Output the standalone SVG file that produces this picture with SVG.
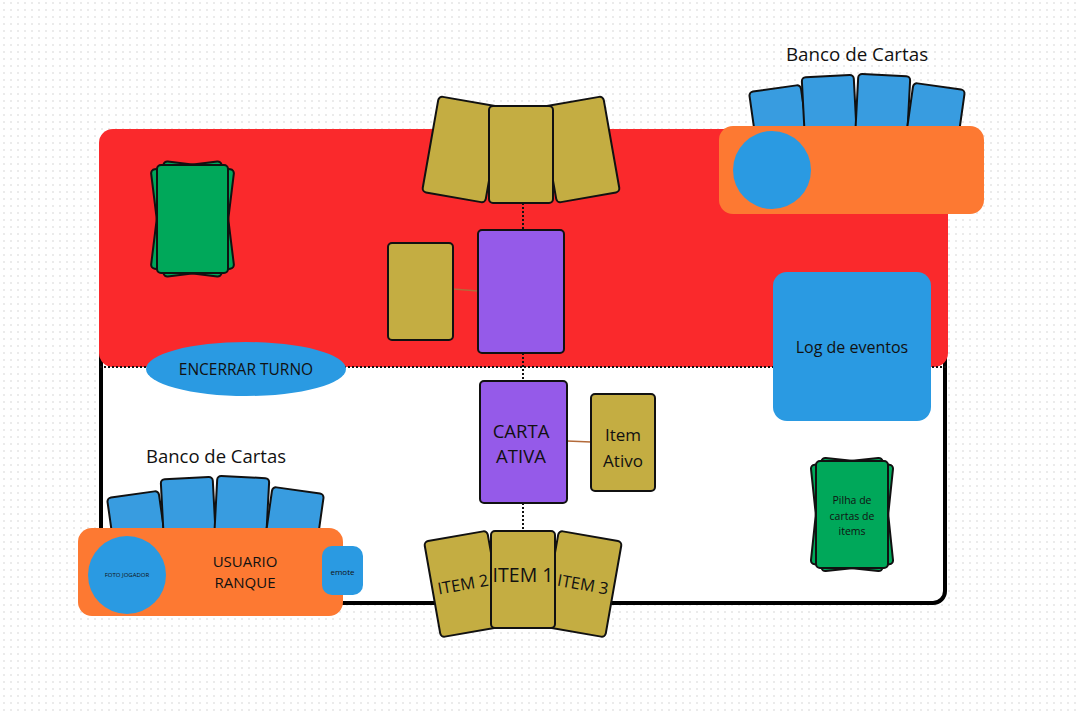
<svg xmlns="http://www.w3.org/2000/svg" width="1081" height="711" viewBox="0 0 1081 711">
  <defs>
    <pattern id="dots" x="0" y="0" width="7" height="7" patternUnits="userSpaceOnUse">
      <rect x="3" y="2" width="2" height="2" fill="#ebebeb"/>
    </pattern>
    <style>
      .card { stroke: #111; stroke-width: 2; }
      .gold { fill: #c4ad42; }
      .purple { fill: #955ae9; }
      .blue { fill: #389ce0; }
      .green { fill: #00a85a; }
      .orange { fill: #fd7932; }
      .sky { fill: #2a9ae2; }
      .txt { font-family: "Open Sans", "Noto Sans", sans-serif; fill: #111; text-anchor: middle; }
      .dot { stroke: #111; stroke-width: 2; stroke-dasharray: 2 2; fill: none; }
      .link { stroke: #b36a3a; stroke-width: 1.5; fill: none; }
    </style>
  </defs>

  <rect width="1081" height="711" fill="#fff"/>
  <rect width="1081" height="711" fill="url(#dots)"/>

  <!-- board -->
  <g id="board">
    <rect x="101" y="140" width="844" height="463" rx="12" fill="#fff" stroke="#000" stroke-width="4"/>
    <rect x="99" y="129" width="849" height="238" rx="14" fill="#fa292c"/>
    <line x1="100" y1="367" x2="947" y2="367" class="dot"/>
  </g>

  <!-- connectors -->
  <g id="connectors">
    <line x1="523" y1="203" x2="523" y2="230" class="dot"/>
    <line x1="523" y1="353" x2="523" y2="381" class="dot"/>
    <line x1="523" y1="503" x2="523" y2="531" class="dot"/>
    <path d="M453 289 L478 291" class="link"/>
    <path d="M567 441 L591 442" class="link"/>
  </g>

  <!-- opponent draw pile -->
  <g id="opponent-pile">
    <rect x="157" y="165" width="71" height="108" rx="4" class="card green" transform="rotate(-7 192.5 219)"/>
    <rect x="157" y="165" width="71" height="108" rx="4" class="card green" transform="rotate(7 192.5 219)"/>
    <rect x="157" y="165" width="71" height="108" rx="4" class="card green"/>
  </g>

  <!-- opponent hand -->
  <g id="opponent-hand">
    <rect x="430" y="101" width="64" height="97" rx="4" class="card gold" transform="rotate(10 462 149.5)"/>
    <rect x="548" y="101" width="64" height="97" rx="4" class="card gold" transform="rotate(-10 580 149.5)"/>
    <rect x="489" y="106" width="64" height="97" rx="4" class="card gold"/>
  </g>

  <!-- opponent item & active card -->
  <g id="opponent-item">
    <rect x="388" y="243" width="65" height="97" rx="4" class="card gold"/>
  </g>
  <g id="opponent-active">
    <rect x="478" y="230" width="86" height="123" rx="4" class="card purple"/>
  </g>

  <!-- opponent panel -->
  <g id="opponent-bank">
    <text x="857" y="61" class="txt" font-size="18.8">Banco de Cartas</text>
    <rect x="755" y="88" width="52" height="90" rx="4" class="card blue" transform="rotate(-8 781 133)"/>
    <rect x="804" y="76" width="52" height="90" rx="4" class="card blue" transform="rotate(-3 830 121)"/>
    <rect x="856" y="75" width="52" height="90" rx="4" class="card blue" transform="rotate(3 882 120)"/>
    <rect x="907" y="86" width="52" height="90" rx="4" class="card blue" transform="rotate(8 933 131)"/>
  </g>
  <g id="opponent-panel">
    <rect x="719" y="126" width="265" height="88" rx="14" class="orange"/>
    <circle cx="772" cy="170" r="39" class="sky"/>
  </g>

  <!-- end turn button -->
  <g id="end-turn">
    <ellipse cx="246" cy="369" rx="100" ry="27" class="sky"/>
    <text x="246" y="374.5" class="txt" font-size="15.5">ENCERRAR TURNO</text>
  </g>

  <!-- event log -->
  <g id="event-log">
    <rect x="773" y="272" width="158" height="149" rx="14" class="sky"/>
    <text x="852" y="353" class="txt" font-size="16">Log de eventos</text>
  </g>

  <!-- player active card & item -->
  <g id="active-card">
    <rect x="480" y="381" width="87" height="122" rx="4" class="card purple"/>
    <text x="521" y="438" class="txt" font-size="18.5">CARTA</text>
    <text x="521" y="463" class="txt" font-size="18.5">ATIVA</text>
  </g>
  <g id="active-item">
    <rect x="591" y="394" width="64" height="97" rx="4" class="card gold"/>
    <text x="623" y="441" class="txt" font-size="17">Item</text>
    <text x="623" y="467" class="txt" font-size="17">Ativo</text>
  </g>

  <!-- player items -->
  <g id="item-2">
    <g transform="rotate(-10 464 584)">
      <rect x="432" y="535.5" width="64" height="97" rx="4" class="card gold"/>
      <text x="463" y="590" class="txt" font-size="16.5">ITEM 2</text>
    </g>
  </g>
  <g id="item-3">
    <g transform="rotate(10 582 584)">
      <rect x="550" y="535.5" width="64" height="97" rx="4" class="card gold"/>
      <text x="583" y="590" class="txt" font-size="16.5">ITEM 3</text>
    </g>
  </g>
  <g id="item-1">
    <rect x="491" y="531" width="64" height="97" rx="4" class="card gold"/>
    <text x="523" y="582" class="txt" font-size="19.5">ITEM 1</text>
  </g>

  <!-- item pile -->
  <g id="item-pile">
    <rect x="816" y="461" width="72" height="107" rx="4" class="card green" transform="rotate(-6 852 514.5)"/>
    <rect x="816" y="461" width="72" height="107" rx="4" class="card green" transform="rotate(6 852 514.5)"/>
    <rect x="816" y="461" width="72" height="107" rx="4" class="card green"/>
    <text x="852" y="504" class="txt" font-size="10.5">Pilha de</text>
    <text x="852" y="520" class="txt" font-size="10.5">cartas de</text>
    <text x="852" y="535" class="txt" font-size="10.5">items</text>
  </g>

  <!-- player panel -->
  <g id="player-bank">
    <text x="216" y="463" class="txt" font-size="18.5">Banco de Cartas</text>
    <rect x="113" y="494" width="52" height="90" rx="4" class="card blue" transform="rotate(-8 139 539)"/>
    <rect x="163" y="478" width="52" height="90" rx="4" class="card blue" transform="rotate(-3 189 523)"/>
    <rect x="215" y="477" width="52" height="90" rx="4" class="card blue" transform="rotate(3 241 522)"/>
    <rect x="266" y="490" width="52" height="90" rx="4" class="card blue" transform="rotate(8 292 535)"/>
  </g>
  <g id="player-panel">
    <rect x="78" y="528" width="265" height="88" rx="14" class="orange"/>
    <circle cx="127" cy="575" r="39" class="sky"/>
    <text x="127" y="577" class="txt" font-size="6">FOTO JOGADOR</text>
    <text x="245" y="567" class="txt" font-size="15">USUARIO</text>
    <text x="245" y="587.5" class="txt" font-size="15">RANQUE</text>
  </g>
  <g id="emote">
    <rect x="322" y="546" width="41" height="49" rx="10" class="sky"/>
    <text x="342.5" y="575" class="txt" font-size="8">emote</text>
  </g>
</svg>
